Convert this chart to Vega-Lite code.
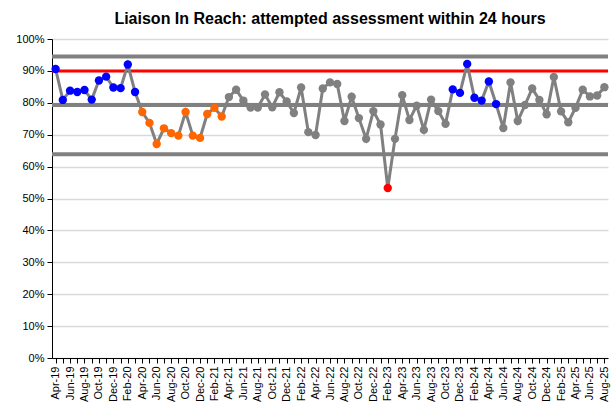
{
  "$schema": "https://vega.github.io/schema/vega-lite/v6.json",
  "width": 556,
  "height": 319,
  "autosize": "none",
  "padding": {"left": 52, "top": 39, "right": 5, "bottom": 54},
  "background": "white",
  "config": {"font": "Liberation Sans", "view": {"stroke": null}},
  "title": {"text": "Liaison In Reach: attempted assessment within 24 hours", "fontSize": 16, "fontWeight": "bold", "color": "black", "anchor": "middle", "baseline": "alphabetic", "frame": "group", "offset": -7},
  "datasets": {
    "pts": [
      {"date": "2019-04-01", "value": 90.6, "status": "hi"},
      {"date": "2019-05-01", "value": 80.9, "status": "hi"},
      {"date": "2019-06-01", "value": 83.8, "status": "hi"},
      {"date": "2019-07-01", "value": 83.4, "status": "hi"},
      {"date": "2019-08-01", "value": 84.0, "status": "hi"},
      {"date": "2019-09-01", "value": 81.0, "status": "hi"},
      {"date": "2019-10-01", "value": 87.0, "status": "hi"},
      {"date": "2019-11-01", "value": 88.2, "status": "hi"},
      {"date": "2019-12-01", "value": 84.8, "status": "hi"},
      {"date": "2020-01-01", "value": 84.6, "status": "hi"},
      {"date": "2020-02-01", "value": 92.0, "status": "hi"},
      {"date": "2020-03-01", "value": 83.4, "status": "hi"},
      {"date": "2020-04-01", "value": 77.1, "status": "lo"},
      {"date": "2020-05-01", "value": 73.7, "status": "lo"},
      {"date": "2020-06-01", "value": 67.1, "status": "lo"},
      {"date": "2020-07-01", "value": 72.0, "status": "lo"},
      {"date": "2020-08-01", "value": 70.5, "status": "lo"},
      {"date": "2020-09-01", "value": 69.7, "status": "lo"},
      {"date": "2020-10-01", "value": 77.1, "status": "lo"},
      {"date": "2020-11-01", "value": 69.7, "status": "lo"},
      {"date": "2020-12-01", "value": 69.0, "status": "lo"},
      {"date": "2021-01-01", "value": 76.5, "status": "lo"},
      {"date": "2021-02-01", "value": 78.4, "status": "lo"},
      {"date": "2021-03-01", "value": 75.7, "status": "lo"},
      {"date": "2021-04-01", "value": 81.8, "status": "n"},
      {"date": "2021-05-01", "value": 84.1, "status": "n"},
      {"date": "2021-06-01", "value": 80.7, "status": "n"},
      {"date": "2021-07-01", "value": 78.5, "status": "n"},
      {"date": "2021-08-01", "value": 78.5, "status": "n"},
      {"date": "2021-09-01", "value": 82.6, "status": "n"},
      {"date": "2021-10-01", "value": 78.6, "status": "n"},
      {"date": "2021-11-01", "value": 83.3, "status": "n"},
      {"date": "2021-12-01", "value": 80.4, "status": "n"},
      {"date": "2022-01-01", "value": 76.8, "status": "n"},
      {"date": "2022-02-01", "value": 84.8, "status": "n"},
      {"date": "2022-03-01", "value": 70.8, "status": "n"},
      {"date": "2022-04-01", "value": 69.9, "status": "n"},
      {"date": "2022-05-01", "value": 84.5, "status": "n"},
      {"date": "2022-06-01", "value": 86.4, "status": "n"},
      {"date": "2022-07-01", "value": 85.9, "status": "n"},
      {"date": "2022-08-01", "value": 74.3, "status": "n"},
      {"date": "2022-09-01", "value": 81.9, "status": "n"},
      {"date": "2022-10-01", "value": 75.2, "status": "n"},
      {"date": "2022-11-01", "value": 68.7, "status": "n"},
      {"date": "2022-12-01", "value": 77.4, "status": "n"},
      {"date": "2023-01-01", "value": 73.2, "status": "n"},
      {"date": "2023-02-01", "value": 53.3, "status": "sp"},
      {"date": "2023-03-01", "value": 68.7, "status": "n"},
      {"date": "2023-04-01", "value": 82.4, "status": "n"},
      {"date": "2023-05-01", "value": 74.6, "status": "n"},
      {"date": "2023-06-01", "value": 79.1, "status": "n"},
      {"date": "2023-07-01", "value": 71.5, "status": "n"},
      {"date": "2023-08-01", "value": 81.0, "status": "n"},
      {"date": "2023-09-01", "value": 77.4, "status": "n"},
      {"date": "2023-10-01", "value": 73.4, "status": "n"},
      {"date": "2023-11-01", "value": 84.2, "status": "hi"},
      {"date": "2023-12-01", "value": 83.1, "status": "hi"},
      {"date": "2024-01-01", "value": 92.2, "status": "hi"},
      {"date": "2024-02-01", "value": 81.6, "status": "hi"},
      {"date": "2024-03-01", "value": 80.7, "status": "hi"},
      {"date": "2024-04-01", "value": 86.7, "status": "hi"},
      {"date": "2024-05-01", "value": 79.6, "status": "hi"},
      {"date": "2024-06-01", "value": 72.1, "status": "n"},
      {"date": "2024-07-01", "value": 86.4, "status": "n"},
      {"date": "2024-08-01", "value": 74.3, "status": "n"},
      {"date": "2024-09-01", "value": 79.3, "status": "n"},
      {"date": "2024-10-01", "value": 84.5, "status": "n"},
      {"date": "2024-11-01", "value": 80.9, "status": "n"},
      {"date": "2024-12-01", "value": 76.4, "status": "n"},
      {"date": "2025-01-01", "value": 88.1, "status": "n"},
      {"date": "2025-02-01", "value": 77.3, "status": "n"},
      {"date": "2025-03-01", "value": 73.9, "status": "n"},
      {"date": "2025-04-01", "value": 78.4, "status": "n"},
      {"date": "2025-05-01", "value": 84.1, "status": "n"},
      {"date": "2025-06-01", "value": 82.0, "status": "n"},
      {"date": "2025-07-01", "value": 82.3, "status": "n"},
      {"date": "2025-08-01", "value": 84.9, "status": "n"}
    ],
    "limits": [
      {"value": 94.5},
      {"value": 79.3},
      {"value": 63.9}
    ],
    "target": [
      {"value": 90}
    ]
  },
  "encoding": {
    "y": {"field": "value", "type": "quantitative",
          "scale": {"domain": [0, 100], "nice": false},
          "axis": {"title": null, "values": [0, 10, 20, 30, 40, 50, 60, 70, 80, 90, 100],
                   "labelExpr": "datum.value + '%'", "labelFontSize": 11, "labelColor": "black", "labelPadding": 3,
                   "labelOverlap": false, "labelFlush": false,
                   "domainColor": "black", "tickColor": "black", "tickSize": 5,
                   "grid": true, "gridColor": "#d9d9d9", "gridWidth": 1.5}}
  },
  "layer": [
    {
      "data": {"name": "limits"},
      "mark": {"type": "rule", "stroke": "#808080", "strokeWidth": 4}
    },
    {
      "data": {"name": "target"},
      "mark": {"type": "rule", "stroke": "#ff0000", "strokeWidth": 3}
    },
    {
      "data": {"name": "pts"},
      "mark": {"type": "line", "stroke": "#808080", "strokeWidth": 3},
      "encoding": {
        "x": {"field": "date", "timeUnit": "yearmonth", "type": "ordinal",
              "scale": {"type": "point", "padding": 0.5},
              "axis": {"title": null, "labelAngle": -90, "labelAlign": "right", "labelBaseline": "middle",
                       "labelFontSize": 11, "labelColor": "black", "labelOverlap": false, "labelPadding": 3,
                       "labelExpr": "month(datum.value) % 2 == 1 ? timeFormat(datum.value, '%b-%y') : ''",
                       "domainColor": "black", "tickColor": "black", "tickSize": 5, "grid": false}}
      }
    },
    {
      "data": {"name": "pts"},
      "mark": {"type": "point", "filled": true, "opacity": 1},
      "encoding": {
        "x": {"field": "date", "timeUnit": "yearmonth", "type": "ordinal"},
        "color": {"field": "status", "type": "nominal", "legend": null,
                  "scale": {"domain": ["hi", "lo", "sp", "n"], "range": ["#0000ff", "#ff6600", "#ff0000", "#808080"]}},
        "size": {"field": "status", "type": "nominal", "legend": null,
                 "scale": {"domain": ["hi", "lo", "sp", "n"], "range": [70, 70, 55, 30]}}
      }
    }
  ]
}
